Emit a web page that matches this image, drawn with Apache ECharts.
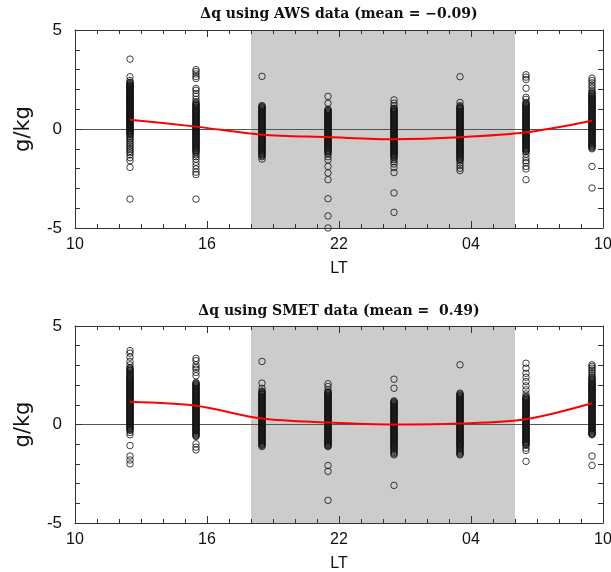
<!DOCTYPE html>
<html>
<head>
<meta charset="utf-8">
<script src="https://cdn.jsdelivr.net/npm/echarts@6/dist/echarts.min.js"></script>
<style>html,body{margin:0;padding:0;background:#fff;}#c{width:611px;height:572px;}</style>
</head>
<body>
<div id="c"></div>
<script>
// Column local times (LT, hours)
var hoursLT = [12.5, 15.5, 18.5, 21.5, 0.5, 3.5, 6.5, 9.5];
var xTickLabels = ['10', '16', '22', '04', '10'];
var yTickValues = [-5, 0, 5];
var nightStart = 18, nightEnd = 6;
var titleAWS = 'Δq using AWS data (mean = −0.09)';
var titleSMET = 'Δq using SMET data (mean =  0.49)';

// Mean (red line) values
var awsMean = [0.47, 0.12, -0.29, -0.41, -0.52, -0.42, -0.17, 0.42];
var smetMean = [1.15, 0.95, 0.30, 0.10, 0.00, 0.05, 0.27, 1.08];

// Individual Δq values for each column (AWS)
var aws1 = [3.53, 2.64, 2.45, 2.36, 2.28, 2.2, 2.14, 2.08, 2.0, 1.94, 1.87, 1.8, 1.72, 1.66, 1.6, 1.52, 1.46, 1.4, 1.33, 1.27, 1.2, 1.13, 1.06, 1.0, 0.93, 0.87, 0.8, 0.74, 0.67, 0.6, 0.54, 0.47, 0.4, 0.34, 0.27, 0.2, 0.13, 0.07, 0.0, -0.07, -0.14, -0.22, -0.3, -0.38, -0.45, -0.52, -0.6, -0.68, -0.77, -0.86, -0.95, -1.04, -1.12, -1.2, -1.3, -1.45, -1.6, -1.94, -3.54,
  2.32, 2.24, 2.17, 2.11, 2.04, 1.97, 1.9, 1.83, 1.76, 1.69, 1.63, 1.56, 1.49, 1.43, 1.36, 1.3, 1.23, 1.16, 1.09, 1.03, 0.96, 0.9, 0.83, 0.77, 0.7, 0.63, 0.57, 0.5, 0.44, 0.37, 0.3, 0.24, 0.17, 0.1, 0.03, -0.04, -0.1, -0.18, -0.26];
var aws2 = [3.0, 2.9, 2.78, 2.65, 2.55, 2.05, 1.95, 1.8, 1.65, 1.5, 1.38, 1.3, 1.22, 1.14, 1.05, 0.97, 0.9, 0.82, 0.74, 0.66, 0.58, 0.5, 0.42, 0.34, 0.26, 0.18, 0.1, 0.02, -0.06, -0.14, -0.22, -0.3, -0.38, -0.46, -0.54, -0.62, -0.7, -0.78, -0.86, -0.94, -1.02, -1.1, -1.2, -1.3, -1.4, -1.52, -1.68, -1.85, -2.02, -2.18, -2.3, -3.54,
  1.26, 1.18, 1.1, 1.01, 0.93, 0.86, 0.78, 0.7, 0.62, 0.54, 0.46, 0.38, 0.3, 0.22, 0.14, 0.06, -0.02, -0.1, -0.18, -0.26, -0.34, -0.42, -0.5, -0.58, -0.66, -0.74, -0.82, -0.9, -0.98, -1.06, -1.15];
var aws3 = [2.66, 1.18, 1.1, 1.02, 0.94, 0.86, 0.78, 0.7, 0.62, 0.54, 0.46, 0.38, 0.3, 0.22, 0.14, 0.06, -0.02, -0.1, -0.18, -0.26, -0.34, -0.42, -0.5, -0.58, -0.66, -0.74, -0.82, -0.9, -0.98, -1.06, -1.14, -1.22, -1.3, -1.4, -1.52,
  1.14, 1.06, 0.98, 0.9, 0.82, 0.74, 0.66, 0.58, 0.5, 0.42, 0.34, 0.26, 0.18, 0.1, 0.02, -0.06, -0.14, -0.22, -0.3, -0.38, -0.46, -0.54, -0.62, -0.7, -0.78, -0.86, -0.94, -1.02, -1.1, -1.18, -1.26, -1.35];
var aws4 = [1.65, 1.3, 1.0, 0.92, 0.84, 0.76, 0.68, 0.6, 0.52, 0.44, 0.36, 0.28, 0.2, 0.12, 0.04, -0.04, -0.12, -0.2, -0.28, -0.36, -0.44, -0.52, -0.6, -0.68, -0.76, -0.84, -0.92, -1.0, -1.08, -1.16, -1.27, -1.4, -1.56, -1.89, -2.22, -2.56, -3.52, -4.39, -5.0,
  0.96, 0.88, 0.8, 0.72, 0.64, 0.56, 0.48, 0.4, 0.32, 0.24, 0.16, 0.08, 0.0, -0.08, -0.16, -0.24, -0.32, -0.4, -0.48, -0.56, -0.64, -0.72, -0.8, -0.88, -0.96, -1.04, -1.12, -1.21];
var aws5 = [1.47, 1.3, 1.17, 1.05, 0.97, 0.89, 0.81, 0.73, 0.65, 0.57, 0.49, 0.41, 0.33, 0.25, 0.17, 0.09, 0.01, -0.07, -0.15, -0.23, -0.31, -0.39, -0.47, -0.55, -0.63, -0.71, -0.79, -0.87, -0.95, -1.03, -1.11, -1.19, -1.27, -1.35, -1.45, -1.55, -1.65, -1.77, -1.95, -2.2, -3.23, -4.21,
  1.01, 0.93, 0.85, 0.77, 0.69, 0.61, 0.53, 0.45, 0.37, 0.29, 0.21, 0.13, 0.05, -0.03, -0.11, -0.19, -0.27, -0.35, -0.43, -0.51, -0.59, -0.67, -0.75, -0.83, -0.91, -0.99, -1.07, -1.15, -1.23, -1.31, -1.4];
var aws6 = [2.64, 1.34, 1.18, 1.08, 1.0, 0.92, 0.84, 0.76, 0.68, 0.6, 0.52, 0.44, 0.36, 0.28, 0.2, 0.12, 0.04, -0.04, -0.12, -0.2, -0.28, -0.36, -0.44, -0.52, -0.6, -0.68, -0.76, -0.84, -0.92, -1.0, -1.08, -1.16, -1.24, -1.32, -1.4, -1.5, -1.6, -1.72, -1.85, -1.98, -2.1,
  1.13, 1.04, 0.96, 0.88, 0.8, 0.72, 0.64, 0.56, 0.48, 0.4, 0.32, 0.24, 0.16, 0.08, 0.0, -0.08, -0.16, -0.24, -0.32, -0.4, -0.48, -0.56, -0.64, -0.72, -0.8, -0.88, -0.96, -1.04, -1.12, -1.2, -1.28, -1.36, -1.45, -1.55];
var aws7 = [2.74, 2.62, 2.5, 2.06, 1.6, 1.5, 1.35, 1.25, 1.17, 1.09, 1.01, 0.93, 0.85, 0.77, 0.69, 0.61, 0.53, 0.45, 0.37, 0.29, 0.21, 0.13, 0.05, -0.03, -0.11, -0.19, -0.27, -0.35, -0.43, -0.51, -0.59, -0.67, -0.75, -0.83, -0.91, -0.99, -1.07, -1.15, -1.27, -1.45, -1.6, -1.7, -1.89, -2.02, -2.56,
  1.3, 1.21, 1.13, 1.05, 0.97, 0.89, 0.81, 0.73, 0.65, 0.57, 0.49, 0.41, 0.33, 0.25, 0.17, 0.09, 0.01, -0.07, -0.15, -0.23, -0.31, -0.39, -0.47, -0.55, -0.63, -0.71, -0.79, -0.87, -0.95, -1.03, -1.11];
var aws8 = [2.57, 2.45, 2.33, 2.2, 2.08, 1.95, 1.85, 1.75, 1.66, 1.58, 1.5, 1.42, 1.34, 1.26, 1.18, 1.1, 1.02, 0.94, 0.86, 0.78, 0.7, 0.62, 0.54, 0.46, 0.38, 0.3, 0.22, 0.14, 0.06, -0.02, -0.1, -0.18, -0.26, -0.34, -0.42, -0.5, -0.58, -0.66, -0.74, -0.82, -0.9, -1.0, -1.89, -2.98,
  1.8, 1.7, 1.62, 1.54, 1.46, 1.38, 1.3, 1.22, 1.14, 1.06, 0.98, 0.9, 0.82, 0.74, 0.66, 0.58, 0.5, 0.42, 0.34, 0.26, 0.18, 0.1, 0.02, -0.06, -0.14, -0.22, -0.3, -0.38, -0.46, -0.54, -0.62, -0.7, -0.78, -0.86, -0.95];

// Individual Δq values for each column (SMET)
var smet1 = [3.75, 3.62, 3.42, 3.2, 3.03, 2.9, 2.8, 2.7, 2.6, 2.5, 2.42, 2.34, 2.26, 2.18, 2.1, 2.02, 1.94, 1.86, 1.78, 1.7, 1.62, 1.54, 1.46, 1.38, 1.3, 1.22, 1.14, 1.06, 0.98, 0.9, 0.82, 0.74, 0.66, 0.58, 0.5, 0.42, 0.34, 0.26, 0.18, 0.1, 0.02, -0.06, -0.14, -0.22, -0.3, -0.4, -0.52, -1.07, -1.6, -1.8, -2.0,
  2.85, 2.75, 2.65, 2.55, 2.46, 2.38, 2.3, 2.22, 2.14, 2.06, 1.98, 1.9, 1.82, 1.74, 1.66, 1.58, 1.5, 1.42, 1.34, 1.26, 1.18, 1.1, 1.02, 0.94, 0.86, 0.78, 0.7, 0.62, 0.54, 0.46, 0.38, 0.3, 0.22, 0.14, 0.06, -0.02, -0.1, -0.18, -0.26];
var smet2 = [3.36, 3.24, 3.03, 2.9, 2.81, 2.64, 2.47, 2.13, 2.05, 1.97, 1.89, 1.81, 1.73, 1.65, 1.57, 1.49, 1.41, 1.33, 1.25, 1.17, 1.09, 1.01, 0.93, 0.85, 0.77, 0.69, 0.61, 0.53, 0.45, 0.37, 0.29, 0.21, 0.13, 0.05, -0.03, -0.11, -0.19, -0.27, -0.35, -0.45, -0.53, -0.61, -0.98, -1.15, -1.29,
  2.09, 2.01, 1.93, 1.85, 1.77, 1.69, 1.61, 1.53, 1.45, 1.37, 1.29, 1.21, 1.13, 1.05, 0.97, 0.89, 0.81, 0.73, 0.65, 0.57, 0.49, 0.41, 0.33, 0.25, 0.17, 0.09, 0.01, -0.07, -0.15, -0.23, -0.31, -0.4, -0.49, -0.57];
var smet3 = [3.2, 2.1, 1.84, 1.7, 1.62, 1.54, 1.46, 1.38, 1.3, 1.22, 1.14, 1.06, 0.98, 0.9, 0.82, 0.74, 0.66, 0.58, 0.5, 0.42, 0.34, 0.26, 0.18, 0.1, 0.02, -0.06, -0.14, -0.22, -0.3, -0.38, -0.46, -0.54, -0.62, -0.7, -0.78, -0.86, -0.94, -1.02, -1.12,
  1.66, 1.58, 1.5, 1.42, 1.34, 1.26, 1.18, 1.1, 1.02, 0.94, 0.86, 0.78, 0.7, 0.62, 0.54, 0.46, 0.38, 0.3, 0.22, 0.14, 0.06, -0.02, -0.1, -0.18, -0.26, -0.34, -0.42, -0.5, -0.58, -0.66, -0.74, -0.82, -0.9, -0.98, -1.06];
var smet4 = [2.07, 1.93, 1.76, 1.66, 1.58, 1.5, 1.42, 1.34, 1.26, 1.18, 1.1, 1.02, 0.94, 0.86, 0.78, 0.7, 0.62, 0.54, 0.46, 0.38, 0.3, 0.22, 0.14, 0.06, -0.02, -0.1, -0.18, -0.26, -0.34, -0.42, -0.5, -0.58, -0.66, -0.74, -0.82, -0.9, -0.98, -1.05, -1.12, -2.08, -2.38, -3.85,
  1.62, 1.54, 1.46, 1.38, 1.3, 1.22, 1.14, 1.06, 0.98, 0.9, 0.82, 0.74, 0.66, 0.58, 0.5, 0.42, 0.34, 0.26, 0.18, 0.1, 0.02, -0.06, -0.14, -0.22, -0.3, -0.38, -0.46, -0.54, -0.62, -0.7, -0.78, -0.86, -0.94, -1.02, -1.09];
var smet5 = [2.3, 1.84, 1.2, 1.12, 1.04, 0.96, 0.88, 0.8, 0.72, 0.64, 0.56, 0.48, 0.4, 0.32, 0.24, 0.16, 0.08, 0.0, -0.08, -0.16, -0.24, -0.32, -0.4, -0.48, -0.56, -0.64, -0.72, -0.8, -0.88, -0.96, -1.04, -1.12, -1.2, -1.3, -1.42, -1.54, -3.09,
  1.16, 1.08, 1.0, 0.92, 0.84, 0.76, 0.68, 0.6, 0.52, 0.44, 0.36, 0.28, 0.2, 0.12, 0.04, -0.04, -0.12, -0.2, -0.28, -0.36, -0.44, -0.52, -0.6, -0.68, -0.76, -0.84, -0.92, -1.0, -1.08, -1.16, -1.25, -1.36, -1.48];
var smet6 = [3.03, 1.59, 1.5, 1.42, 1.34, 1.26, 1.18, 1.1, 1.02, 0.94, 0.86, 0.78, 0.7, 0.62, 0.54, 0.46, 0.38, 0.3, 0.22, 0.14, 0.06, -0.02, -0.1, -0.18, -0.26, -0.34, -0.42, -0.5, -0.58, -0.66, -0.74, -0.82, -0.9, -0.98, -1.06, -1.14, -1.25, -1.35, -1.45, -1.54,
  1.55, 1.46, 1.38, 1.3, 1.22, 1.14, 1.06, 0.98, 0.9, 0.82, 0.74, 0.66, 0.58, 0.5, 0.42, 0.34, 0.26, 0.18, 0.1, 0.02, -0.06, -0.14, -0.22, -0.3, -0.38, -0.46, -0.54, -0.62, -0.7, -0.78, -0.86, -0.94, -1.02, -1.1, -1.2, -1.3, -1.4, -1.5];
var smet7 = [3.11, 2.86, 2.6, 2.4, 2.18, 1.96, 1.76, 1.55, 1.42, 1.34, 1.26, 1.18, 1.1, 1.02, 0.94, 0.86, 0.78, 0.7, 0.62, 0.54, 0.46, 0.38, 0.3, 0.22, 0.14, 0.06, -0.02, -0.1, -0.18, -0.26, -0.34, -0.42, -0.5, -0.58, -0.66, -0.74, -0.82, -0.9, -0.98, -1.06, -1.2, -1.32, -1.87,
  1.38, 1.3, 1.22, 1.14, 1.06, 0.98, 0.9, 0.82, 0.74, 0.66, 0.58, 0.5, 0.42, 0.34, 0.26, 0.18, 0.1, 0.02, -0.06, -0.14, -0.22, -0.3, -0.38, -0.46, -0.54, -0.62, -0.7, -0.78, -0.86, -0.94, -1.02];
var smet8 = [3.03, 2.95, 2.86, 2.77, 2.68, 2.58, 2.48, 2.4, 2.3, 2.2, 2.1, 2.02, 1.94, 1.86, 1.78, 1.7, 1.62, 1.54, 1.46, 1.38, 1.3, 1.22, 1.14, 1.06, 0.98, 0.9, 0.82, 0.74, 0.66, 0.58, 0.5, 0.42, 0.34, 0.26, 0.18, 0.1, 0.02, -0.06, -0.14, -0.22, -0.3, -0.38, -0.45, -0.52, -1.6, -2.08,
  2.35, 2.25, 2.15, 2.06, 1.98, 1.9, 1.82, 1.74, 1.66, 1.58, 1.5, 1.42, 1.34, 1.26, 1.18, 1.1, 1.02, 0.94, 0.86, 0.78, 0.7, 0.62, 0.54, 0.46, 0.38, 0.3, 0.22, 0.14, 0.06, -0.02, -0.1, -0.18, -0.26, -0.34, -0.42, -0.49];

var awsCols = [aws1, aws2, aws3, aws4, aws5, aws6, aws7, aws8];
var smetCols = [smet1, smet2, smet3, smet4, smet5, smet6, smet7, smet8];

// continuous hour axis starting at 10 LT
function cont(h) { return h < 10 ? h + 24 : h; }
function scatterPts(cols) {
  var out = [];
  cols.forEach(function (col, i) {
    col.forEach(function (v) { out.push([cont(hoursLT[i]), v]); });
  });
  return out;
}
function meanPts(m) { return m.map(function (v, i) { return [cont(hoursLT[i]), v]; }); }

var FONT = 'Liberation Sans';
var axisCol = '#333';

function xAxes(gi) {
  var base = {
    gridIndex: gi, type: 'value', min: 10, max: 34, interval: 6, z: 10,
    axisLine: { show: true, onZero: false, lineStyle: { color: axisCol, width: 1 } },
    axisTick: { show: true, inside: true, length: 7, lineStyle: { color: axisCol } },
    minorTick: { show: true, splitNumber: 6, length: 4, lineStyle: { color: axisCol } },
    splitLine: { show: false }, minorSplitLine: { show: false }
  };
  var bottom = Object.assign({}, base, {
    position: 'bottom',
    name: 'LT', nameLocation: 'middle', nameGap: 33,
    nameTextStyle: { fontFamily: FONT, fontSize: 16, color: '#111' },
    axisLabel: {
      show: true, margin: 9, fontFamily: FONT, fontSize: 16, color: '#111',
      formatter: function (v) { return xTickLabels[Math.round((v - 10) / 6)]; }
    }
  });
  var top = Object.assign({}, base, { position: 'top', axisLabel: { show: false } });
  return [bottom, top];
}
function yAxes(gi) {
  var base = {
    gridIndex: gi, type: 'value', min: -5, max: 5, interval: 5, z: 10,
    axisLine: { show: true, onZero: false, lineStyle: { color: axisCol, width: 1 } },
    axisTick: { show: true, inside: true, length: 7, lineStyle: { color: axisCol } },
    minorTick: { show: true, splitNumber: 5, length: 5, lineStyle: { color: axisCol } },
    splitLine: { show: false }, minorSplitLine: { show: false }
  };
  var left = Object.assign({}, base, {
    position: 'left',
    name: 'g/kg', nameLocation: 'middle', nameGap: 41, nameRotate: 90,
    nameTextStyle: { fontFamily: 'DejaVu Sans', fontSize: 21, color: '#111' },
    axisLabel: { show: true, margin: 13, fontFamily: FONT, fontSize: 17, color: '#111',
      formatter: function (v) { return yTickValues.indexOf(v) >= 0 ? String(v) : ''; } }
  });
  var right = Object.assign({}, base, { position: 'right', axisLabel: { show: false } });
  return [left, right];
}

function panelSeries(cols, mean, xi, yi) {
  return [
    {
      type: 'scatter', xAxisIndex: xi, yAxisIndex: yi, z: 3,
      data: scatterPts(cols), symbol: 'circle', symbolSize: 6.5,
      itemStyle: { color: 'rgba(0,0,0,0)', borderColor: '#111', borderWidth: 1 },
      silent: true, animation: false, large: false,
      markArea: {
        silent: true, z: 1,
        itemStyle: { color: '#cccccc' },
        data: [[{ xAxis: nightStart }, { xAxis: nightEnd + 24 }]]
      },
      markLine: {
        silent: true, symbol: 'none', z: 2,
        label: { show: false },
        lineStyle: { color: '#555', width: 1, type: 'solid' },
        data: [{ yAxis: 0 }]
      }
    },
    {
      type: 'line', xAxisIndex: xi, yAxisIndex: yi, z: 5,
      data: meanPts(mean), smooth: 0.3, showSymbol: false, symbol: 'none',
      lineStyle: { color: '#ff0000', width: 2 }, silent: true, animation: false
    }
  ];
}

var chart = echarts.init(document.getElementById('c'), null, { renderer: 'canvas' });
var xa = xAxes(0).concat(xAxes(1));
var ya = yAxes(0).concat(yAxes(1));
chart.setOption({
  animation: false,
  backgroundColor: '#ffffff',
  grid: [
    { left: 75, top: 30, width: 528, height: 198, containLabel: false, outerBoundsMode: 'none' },
    { left: 75, top: 326, width: 528, height: 197, containLabel: false, outerBoundsMode: 'none' }
  ],
  xAxis: xa,
  yAxis: ya,
  series: panelSeries(awsCols, awsMean, 0, 0).concat(panelSeries(smetCols, smetMean, 2, 2)),
  graphic: [
    { type: 'text', x: 339, y: 14, style: { text: titleAWS, fontFamily: 'DejaVu Serif', fontWeight: 'bold', fontSize: 14, fill: '#111', textAlign: 'center', textVerticalAlign: 'middle' } },
    { type: 'text', x: 339, y: 311, style: { text: titleSMET, fontFamily: 'DejaVu Serif', fontWeight: 'bold', fontSize: 14, fill: '#111', textAlign: 'center', textVerticalAlign: 'middle' } }
  ]
});
</script>
</body>
</html>
